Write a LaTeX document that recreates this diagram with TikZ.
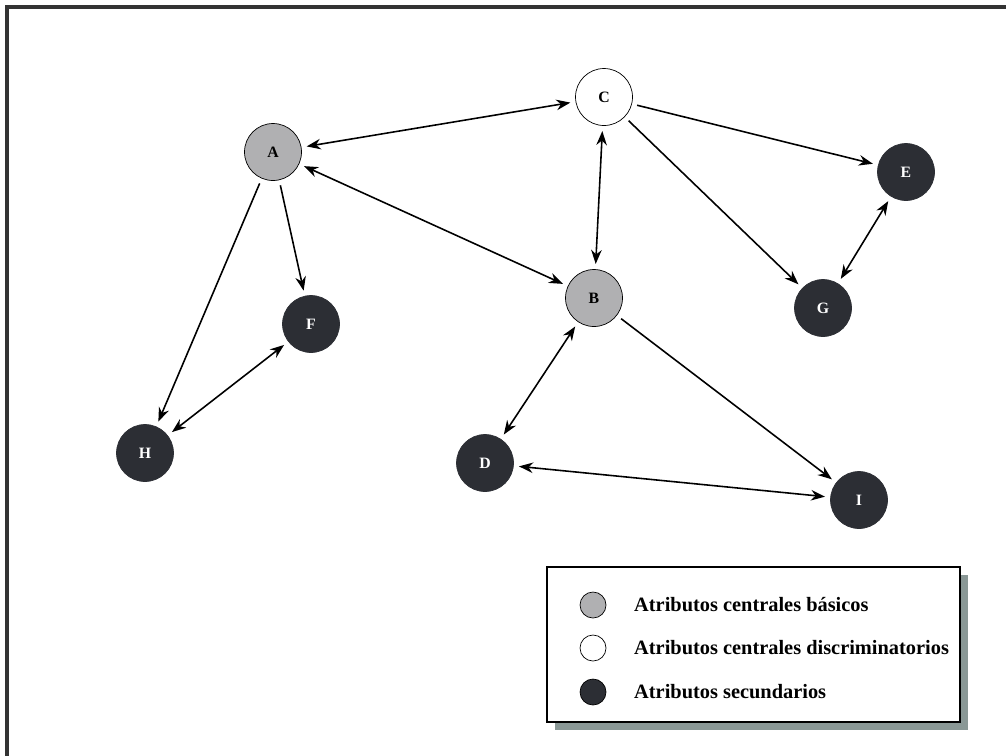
\documentclass[tikz,border=0pt]{standalone}
\usepackage{fontspec}
\setmainfont{Liberation Serif}
\usetikzlibrary{arrows.meta}
\definecolor{basico}{RGB}{176,176,178}
\definecolor{secund}{RGB}{44,46,52}
\definecolor{sombra}{RGB}{138,152,150}
\begin{document}
\begin{tikzpicture}[x=0.02cm,y=-0.02cm,
	attr/.style={circle,draw,thin,minimum size=1.14cm,inner sep=0pt,font=\small\bfseries},
	basic/.style={attr,fill=basico},
	discr/.style={attr,fill=white},
	sec/.style={attr,fill=secund,draw=secund,text=white},
	lg/.style={circle,draw,thin,minimum size=0.52cm,inner sep=0pt},
	leg/.style={anchor=west,font=\fontsize{11.6}{14}\selectfont\bfseries},
	link/.style={line width=0.9pt,shorten <=3pt,shorten >=3pt},
	>={Stealth[length=8pt,width=6pt]}]
	\useasboundingbox (0,0) rectangle (1006,755);
	\draw[line width=1.8pt,black!80] (7,7) rectangle (1020,770);
	\node[basic] (a) at (273,152) {A};
	\node[discr] (c) at (604,97) {C};
	\node[sec] (e) at (906,172) {E};
	\node[basic] (b) at (594,298) {B};
	\node[sec] (g) at (823,308) {G};
	\node[sec] (f) at (311,324) {F};
	\node[sec] (h) at (145,453) {H};
	\node[sec] (d) at (485,463) {D};
	\node[sec] (i) at (859,500) {I};
	\draw[link,<->] (a) -- (c);
	\draw[link,<->] (a) -- (b);
	\draw[link,<->] (c) -- (b);
	\draw[link,->] (c) -- (e);
	\draw[link,->] (c) -- (g);
	\draw[link,<->] (e) -- (g);
	\draw[link,->] (a) -- (f);
	\draw[link,->] (a) -- (h);
	\draw[link,<->] (f) -- (h);
	\draw[link,<->] (b) -- (d);
	\draw[link,->] (b) -- (i);
	\draw[link,<->] (d) -- (i);
	% leyenda
	\fill[sombra] (555,575) rectangle (968,730);
	\draw[thick,fill=white] (547,567) rectangle (960,722);
	\node[lg,fill=basico] (l1) at (593,605) {};
	\node[lg,fill=white] (l2) at (593,648) {};
	\node[lg,fill=secund] (l3) at (593,692) {};
	\node[leg] (t1) at (628,605) {Atributos centrales básicos};
	\node[leg] (t2) at (628,648) {Atributos centrales discriminatorios};
	\node[leg] (t3) at (628,692) {Atributos secundarios};
\end{tikzpicture}
\end{document}
